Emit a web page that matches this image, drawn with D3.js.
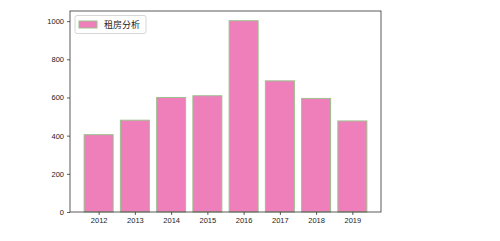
<!DOCTYPE html>
<html><head><meta charset="utf-8">
<script src="https://cdn.jsdelivr.net/npm/d3@7"></script>
<style>body{margin:0;background:#fff}svg{display:block}</style>
</head><body>
<script>
const years = ["2012","2013","2014","2015","2016","2017","2018","2019"];
const values = [405, 481, 600, 609, 1002, 687, 595, 477];
const yTicks = [0,200,400,600,800,1000];
const legendLabel = "租房分析";

const W=500,H=241;
const L=70,R=381,T=11,B=212;
const svg=d3.select("body").append("svg").attr("width",W).attr("height",H);
const x=d3.scaleLinear().domain([-0.79,7.79]).range([L,R]);
const y=d3.scaleLinear().domain([0,1053]).range([B,T]);
const bw=0.8;
svg.append("g").selectAll("rect").data(values).join("rect")
  .attr("x",(d,i)=>x(i-bw/2)).attr("width",x(bw)-x(0))
  .attr("y",d=>y(d)).attr("height",d=>y(0)-y(d))
  .attr("fill","#ee7fba").attr("stroke","#9cc08e").attr("stroke-width",1);
svg.append("rect").attr("x",L).attr("y",T).attr("width",R-L).attr("height",B-T)
  .attr("fill","none").attr("stroke","#333").attr("stroke-width",0.8);
const ya=svg.append("g").attr("transform",`translate(${L},0)`)
  .call(d3.axisLeft(y).tickValues(yTicks).tickFormat(d3.format("d")).tickSize(3).tickPadding(3));
const xa=svg.append("g").attr("transform",`translate(0,${B})`)
  .call(d3.axisBottom(x).tickValues(d3.range(years.length)).tickFormat(i=>years[i]).tickSize(3).tickPadding(3));
[ya,xa].forEach(a=>{a.select(".domain").remove();
  a.selectAll("line").attr("stroke","#333").attr("stroke-width",0.8);
  a.selectAll("text").attr("font-family","Liberation Sans, Arial, sans-serif").attr("font-size",7.5).attr("fill","#222");});
const lg=svg.append("g");
lg.append("rect").attr("x",75).attr("y",15.5).attr("width",71).attr("height",18).attr("rx",2)
  .attr("fill","#fff").attr("stroke","#ccc").attr("stroke-width",0.8);
lg.append("rect").attr("x",79).attr("y",21).attr("width",18).attr("height",7)
  .attr("fill","#ee7fba").attr("stroke","#9cc08e").attr("stroke-width",1);
lg.append("text").attr("x",104).attr("y",28).attr("font-family","Noto Sans CJK SC").attr("font-size",9).attr("fill","#222").text(legendLabel);
</script>
</body></html>
